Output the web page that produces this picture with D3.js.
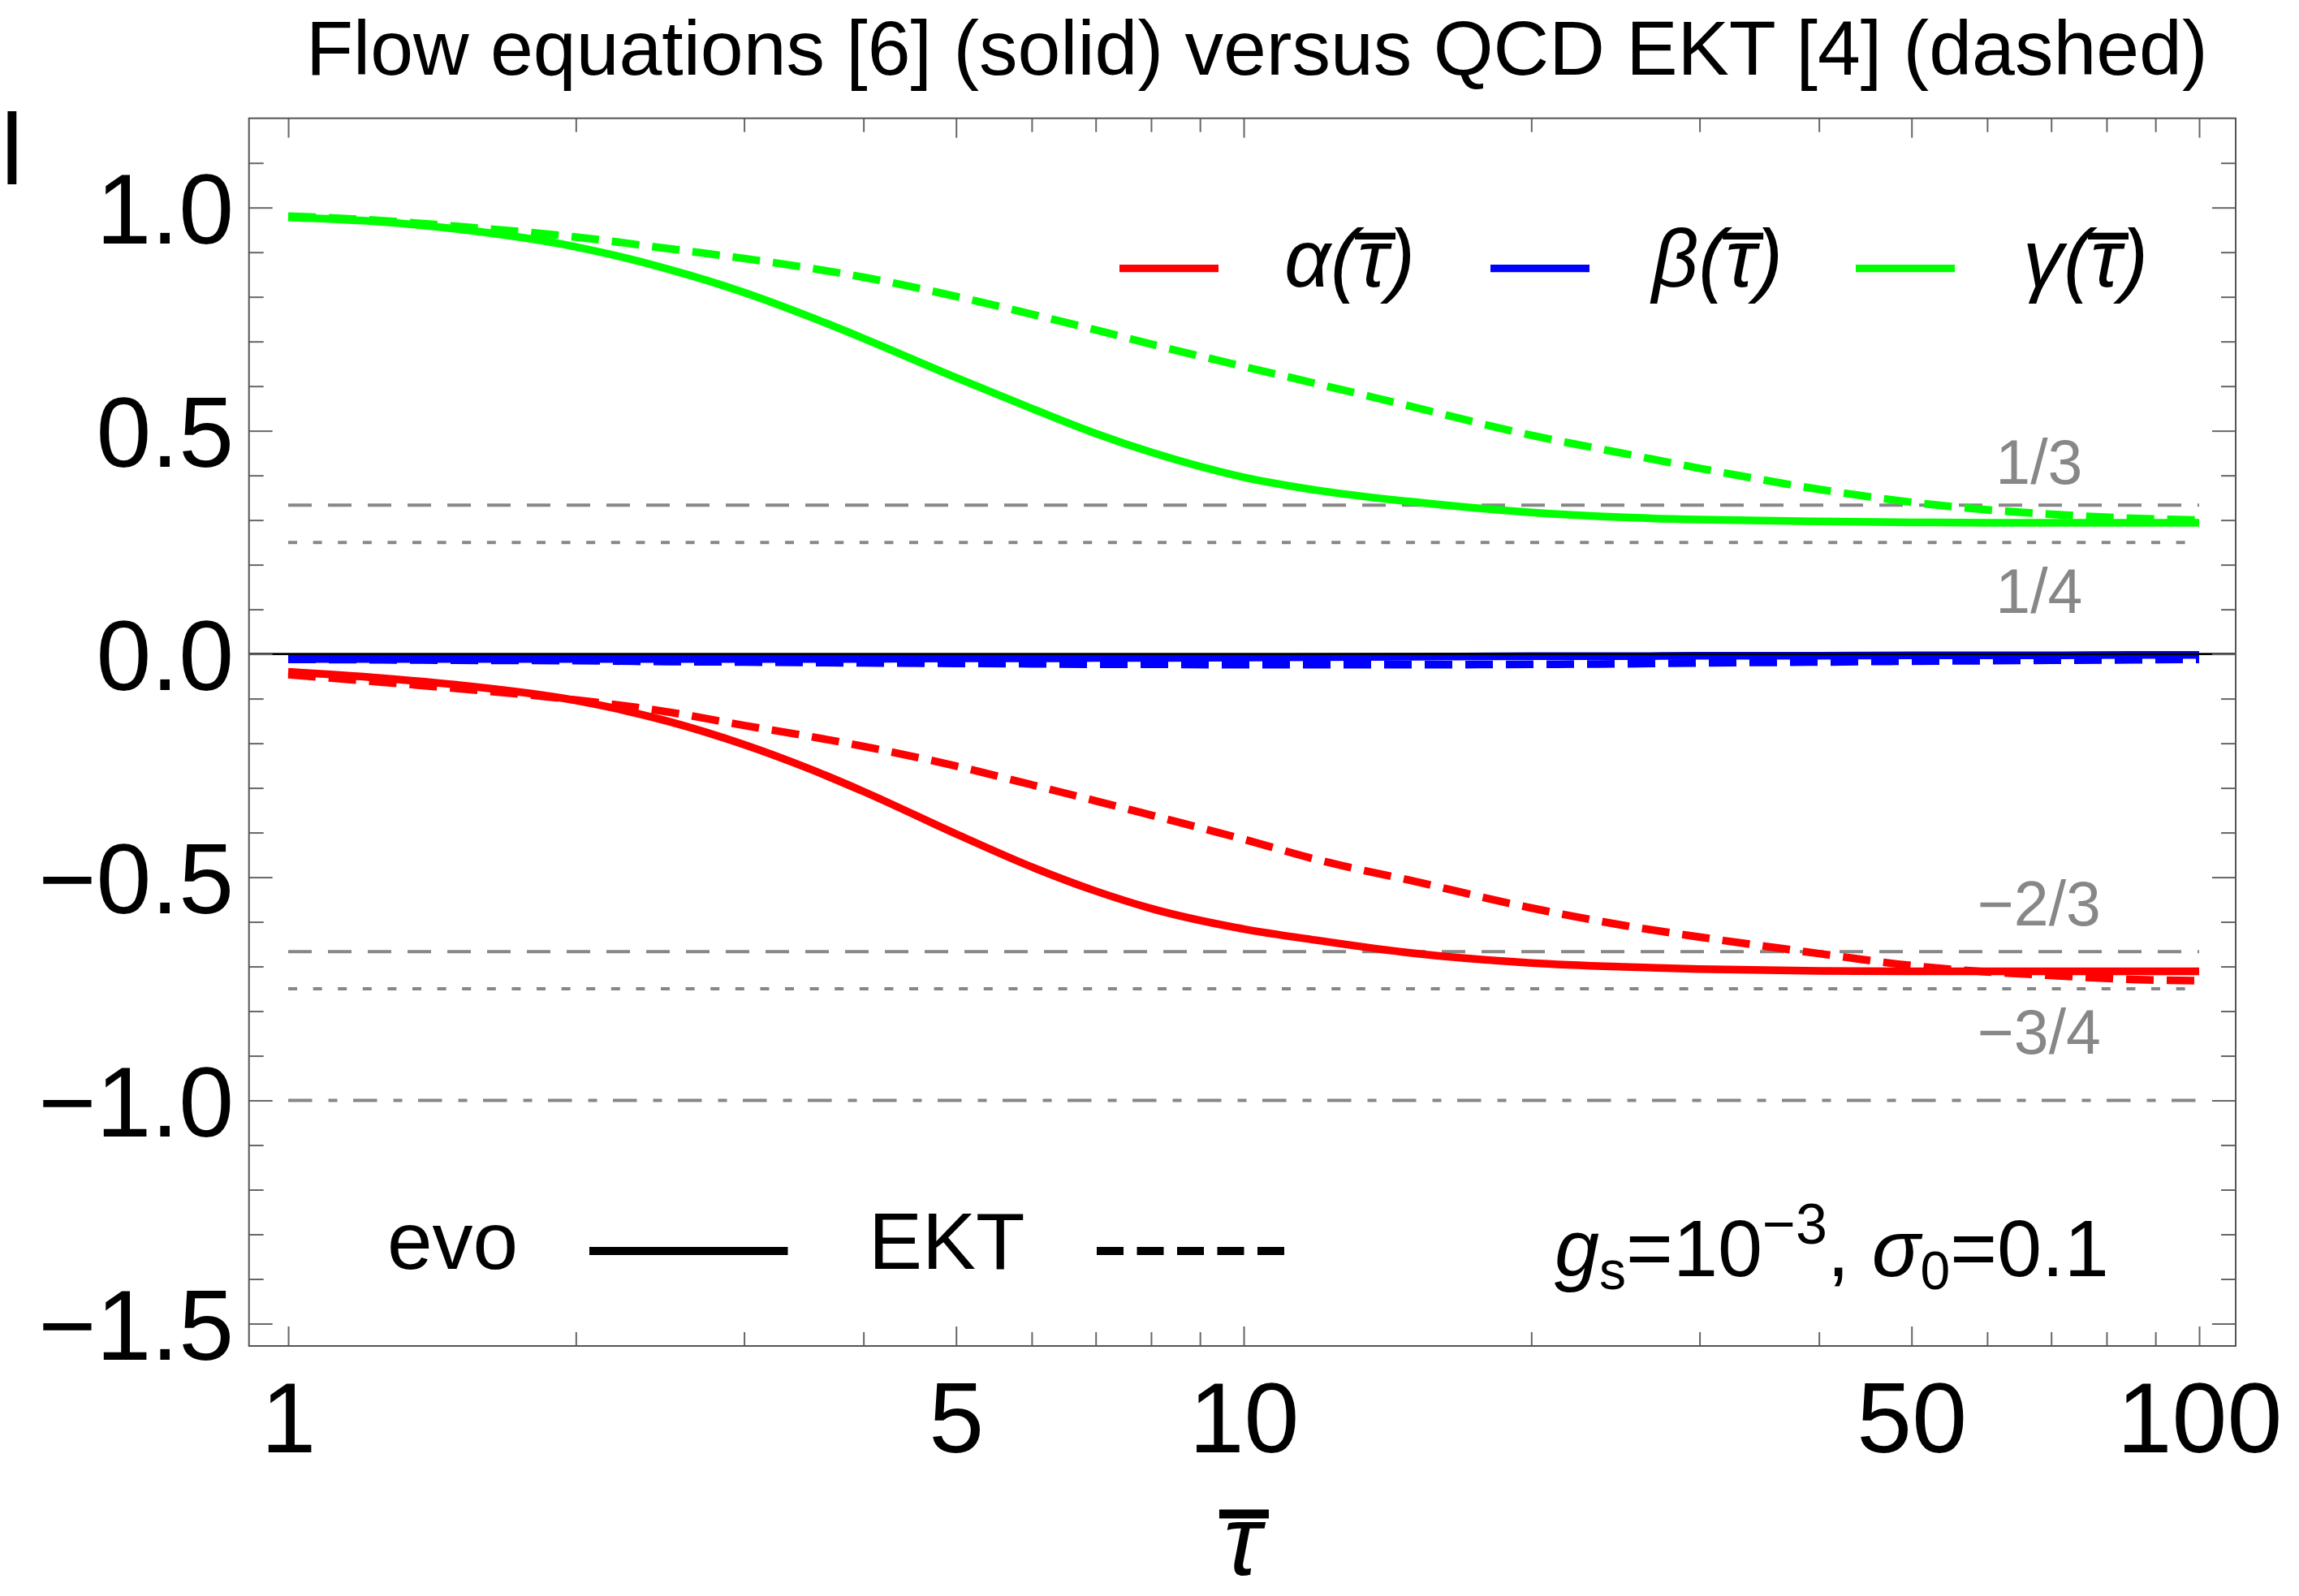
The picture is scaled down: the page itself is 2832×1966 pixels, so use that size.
<!DOCTYPE html>
<html lang="en">
<head>
<meta charset="UTF-8">
<script src="https://d3js.org/d3.v7.min.js"></script>
<title>Flow equations versus QCD EKT</title>
<style>
  body { margin: 0; background: #fff; }
  text { font-family: "Liberation Sans", Arial, sans-serif; }
</style>
</head>
<body>
<script>
// sample points in tau-bar (log axis)
const tau = [1, 1.25, 1.5, 2, 2.5, 3, 3.5, 4, 5, 6, 7, 8, 10, 12, 15, 20, 25, 30, 40, 50, 60, 70, 85, 100];

// flow equations (solid)
const alphaEvo = [-0.040, -0.054, -0.069, -0.104, -0.151, -0.203, -0.256, -0.308, -0.403, -0.477, -0.531, -0.570,
                  -0.616, -0.642, -0.670, -0.692, -0.701, -0.706, -0.710, -0.711, -0.711, -0.711, -0.711, -0.711];
const betaEvo  = [-0.011, -0.011, -0.011, -0.011, -0.011, -0.011, -0.011, -0.011, -0.010, -0.010, -0.009, -0.009,
                  -0.008, -0.007, -0.006, -0.005, -0.005, -0.004, -0.004, -0.003, -0.003, -0.003, -0.002, -0.002];
const gammaEvo = [0.978, 0.968, 0.952, 0.912, 0.862, 0.810, 0.757, 0.707, 0.619, 0.550, 0.494, 0.452,
                  0.396, 0.366, 0.341, 0.317, 0.306, 0.301, 0.297, 0.295, 0.294, 0.294, 0.294, 0.294];

// QCD EKT (dashed)
const alphaEkt = [-0.046, -0.063, -0.077, -0.103, -0.130, -0.160, -0.184, -0.207, -0.251, -0.293, -0.329, -0.361,
                  -0.415, -0.462, -0.508, -0.569, -0.608, -0.634, -0.671, -0.698, -0.712, -0.720, -0.729, -0.732];
const betaEkt  = [-0.012, -0.013, -0.014, -0.015, -0.017, -0.018, -0.019, -0.020, -0.021, -0.022, -0.023, -0.023,
                  -0.024, -0.024, -0.024, -0.023, -0.022, -0.020, -0.018, -0.016, -0.015, -0.014, -0.013, -0.012];
const gammaEkt = [0.981, 0.971, 0.958, 0.934, 0.908, 0.886, 0.865, 0.844, 0.801, 0.761, 0.726, 0.694,
                  0.644, 0.604, 0.554, 0.490, 0.449, 0.416, 0.369, 0.340, 0.323, 0.313, 0.304, 0.300];

// reference levels
const dashedLevels = [1 / 3, -2 / 3];
const dottedLevels = [1 / 4, -3 / 4];
const dashDotLevels = [-1];
const refLabels = ["1/3", "1/4", "\u22122/3", "\u22123/4"];
const refLabelValues = [1 / 3, 1 / 4, -2 / 3, -3 / 4];

// ticks
const xTicks = [1, 5, 10, 50, 100];
const xTickLabels = ["1", "5", "10", "50", "100"];
const xMinorTicks = [2, 3, 4, 6, 7, 8, 9, 20, 30, 40, 60, 70, 80, 90];
const yTicks = [-1.5, -1.0, -0.5, 0.0, 0.5, 1.0];
const yTickLabels = ["\u22121.5", "\u22121.0", "\u22120.5", "0.0", "0.5", "1.0"];
const yMinorTicks = d3.range(-15, 12).map(k => k / 10).filter(v => Math.abs(v * 2 - Math.round(v * 2)) > 1e-6);

const W = 2832, H = 1966;
const frame = { left: 306.7, right: 2754, top: 145.7, bottom: 1658 };

const svg = d3.select("body").append("svg")
    .attr("width", W)
    .attr("height", H);

const x = d3.scaleLog().domain([0.9098, 109.2]).range([frame.left, frame.right]);
const y = d3.scaleLinear().domain([-1.55, 1.2]).range([frame.bottom, frame.top]);

svg.append("clipPath").attr("id", "plot")
  .append("rect")
    .attr("x", frame.left).attr("y", frame.top)
    .attr("width", frame.right - frame.left).attr("height", frame.bottom - frame.top);

const plot = svg.append("g").attr("clip-path", "url(#plot)");

// gray reference lines
const gray = "#878787";
function refLine(levels, dash) {
    plot.selectAll(null)
        .data(levels)
        .enter().append("line")
        .attr("x1", x(1)).attr("x2", x(100))
        .attr("y1", d => y(d)).attr("y2", d => y(d))
        .attr("stroke", gray)
        .attr("stroke-width", 4)
        .attr("stroke-dasharray", dash);
}
refLine(dashedLevels, "29,20");
refLine(dottedLevels, "11,19.6");
refLine(dashDotLevels, "29.5,20,11,19.5");

// curves
const line = d3.line()
    .x((d, i) => x(tau[i]))
    .y(d => y(d))
    .curve(d3.curveMonotoneX);

const series = [
    { vals: alphaEvo, color: "#ff0000", dash: null },
    { vals: betaEvo, color: "#0000ff", dash: null },
    { vals: gammaEvo, color: "#00ff00", dash: null },
    { vals: alphaEkt, color: "#ff0000", dash: "34,16" },
    { vals: betaEkt, color: "#0000ff", dash: "34,16" },
    { vals: gammaEkt, color: "#00ff00", dash: "34,16" }
];

plot.selectAll("path.curve")
    .data(series)
    .enter().append("path")
    .attr("class", "curve")
    .attr("d", d => line(d.vals))
    .attr("fill", "none")
    .attr("stroke", d => d.color)
    .attr("stroke-width", 9.5)
    .attr("stroke-dasharray", d => d.dash);

// zero axis
plot.append("line")
    .attr("x1", frame.left).attr("x2", frame.right)
    .attr("y1", y(0)).attr("y2", y(0))
    .attr("stroke", "#000")
    .attr("stroke-width", 2.7);

// reference labels
const labelOffsets = [-26, 87, -32, 80];
svg.selectAll("text.ref")
    .data(refLabels)
    .enter().append("text")
    .attr("class", "ref")
    .attr("x", x(68))
    .attr("y", (d, i) => y(refLabelValues[i]) + labelOffsets[i])
    .attr("text-anchor", "middle")
    .attr("font-size", 77)
    .attr("fill", gray)
    .text(d => d);

// frame + ticks
function styleAxis(g) {
    g.attr("font-family", "\"Liberation Sans\", Arial, sans-serif").attr("font-size", 122);
    g.select(".domain").remove();
    g.selectAll(".tick line").attr("stroke", "#666").attr("stroke-width", 2);
    g.selectAll(".tick text").attr("fill", "#000");
}
const noLabel = () => "";

svg.append("g").attr("transform", `translate(0,${frame.bottom})`)
    .call(d3.axisBottom(x).tickValues(xTicks).tickSizeInner(-24).tickSizeOuter(0)
        .tickPadding(44).tickFormat((d, i) => xTickLabels[i]))
    .call(styleAxis);
svg.append("g").attr("transform", `translate(0,${frame.bottom})`)
    .call(d3.axisBottom(x).tickValues(xMinorTicks).tickSizeInner(-17).tickSizeOuter(0).tickFormat(noLabel))
    .call(styleAxis);
svg.append("g").attr("transform", `translate(0,${frame.top})`)
    .call(d3.axisTop(x).tickValues(xTicks).tickSizeInner(-24).tickSizeOuter(0).tickFormat(noLabel))
    .call(styleAxis);
svg.append("g").attr("transform", `translate(0,${frame.top})`)
    .call(d3.axisTop(x).tickValues(xMinorTicks).tickSizeInner(-17).tickSizeOuter(0).tickFormat(noLabel))
    .call(styleAxis);

const leftAxis = svg.append("g").attr("transform", `translate(${frame.left},0)`)
    .call(d3.axisLeft(y).tickValues(yTicks).tickSizeInner(-29).tickSizeOuter(0)
        .tickPadding(18.7).tickFormat((d, i) => yTickLabels[i]))
    .call(styleAxis);
leftAxis.selectAll(".tick text").attr("dy", "0.36em");
svg.append("g").attr("transform", `translate(${frame.left},0)`)
    .call(d3.axisLeft(y).tickValues(yMinorTicks).tickSizeInner(-18).tickSizeOuter(0).tickFormat(noLabel))
    .call(styleAxis);
svg.append("g").attr("transform", `translate(${frame.right},0)`)
    .call(d3.axisRight(y).tickValues(yTicks).tickSizeInner(-29).tickSizeOuter(0).tickFormat(noLabel))
    .call(styleAxis);
svg.append("g").attr("transform", `translate(${frame.right},0)`)
    .call(d3.axisRight(y).tickValues(yMinorTicks).tickSizeInner(-18).tickSizeOuter(0).tickFormat(noLabel))
    .call(styleAxis);

svg.append("rect")
    .attr("x", frame.left).attr("y", frame.top)
    .attr("width", frame.right - frame.left).attr("height", frame.bottom - frame.top)
    .attr("fill", "none")
    .attr("stroke", "#555")
    .attr("stroke-width", 2);

// title and axis labels
svg.append("text")
    .attr("x", 377).attr("y", 92)
    .attr("font-size", 95)
    .text("Flow equations [6] (solid) versus QCD EKT [4] (dashed)");

svg.append("text")
    .attr("x", 1).attr("y", 227)
    .attr("font-size", 124)
    .text("l");

// italic text with an overbar on one character
function overbarText(x0, y0, size, str, idx, o) {
    const t = svg.append("text")
        .attr("x", x0).attr("y", y0)
        .attr("font-size", size)
        .attr("font-style", "italic")
        .attr("text-anchor", o.anchor || "start")
        .text(str);
    const e = t.node().getExtentOfChar(idx);
    const cx = e.x + e.width / 2 + o.shift * size;
    svg.append("rect")
        .attr("x", cx - o.w * size / 2)
        .attr("y", y0 - o.top * size)
        .attr("width", o.w * size)
        .attr("height", o.th * size)
        .attr("fill", "#000");
    return t;
}

overbarText(1530, 1940, 122, "\u03c4", 0, { anchor: "middle", shift: 0.02, w: 0.5, top: 0.66, th: 0.09 });

// top legend
const legendNames = ["\u03b1(\u03c4)", "\u03b2(\u03c4)", "\u03b3(\u03c4)"];
const legendColors = ["#ff0000", "#0000ff", "#00ff00"];
const legendLineX = [1379, 1836, 2286];
const legendTextX = [1582, 2035, 2492];
legendNames.forEach((name, i) => {
    svg.append("line")
        .attr("x1", legendLineX[i]).attr("x2", legendLineX[i] + 122)
        .attr("y1", 330.7).attr("y2", 330.7)
        .attr("stroke", legendColors[i])
        .attr("stroke-width", 9.3);
    overbarText(legendTextX[i], 353, 100, name, 2, { shift: 0.03, w: 0.5, top: 0.663, th: 0.083 });
});

// bottom legend
svg.append("text").attr("x", 477).attr("y", 1563).attr("font-size", 100).text("evo");
svg.append("line")
    .attr("x1", 726).attr("x2", 970.5).attr("y1", 1541).attr("y2", 1541)
    .attr("stroke", "#000").attr("stroke-width", 10);
svg.append("text").attr("x", 1070).attr("y", 1563).attr("font-size", 99).text("EKT");
svg.append("line")
    .attr("x1", 1351).attr("x2", 1582).attr("y1", 1541).attr("y2", 1541)
    .attr("stroke", "#000").attr("stroke-width", 10)
    .attr("stroke-dasharray", "33,16.5");

const params = svg.append("text").attr("x", 1915).attr("y", 1572).attr("font-size", 99);
params.append("tspan").attr("font-style", "italic").text("g");
params.append("tspan").attr("font-size", 66).attr("dy", 16).text("s");
params.append("tspan").attr("dy", -16).text("=10");
params.append("tspan").attr("font-size", 70).attr("dy", -40).text("\u22123");
params.append("tspan").attr("dy", 40).text(", ");
params.append("tspan").attr("font-style", "italic").text("\u03c3");
params.append("tspan").attr("font-size", 66).attr("dy", 16).text("0");
params.append("tspan").attr("dy", -16).text("=0.1");
</script>
</body>
</html>
